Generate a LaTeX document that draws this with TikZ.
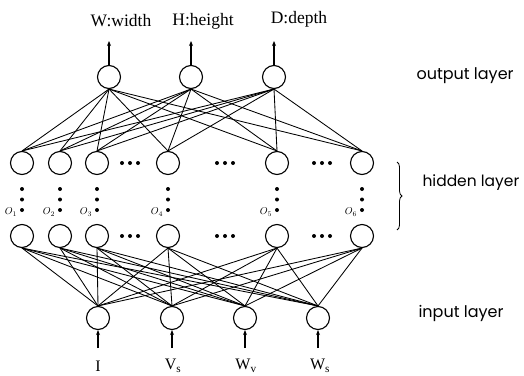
\documentclass[tikz,border=0pt]{standalone}
\usepackage{fontspec}
\setmainfont{Liberation Serif}
\newfontfamily\gothic{Poppins}
\usetikzlibrary{decorations.pathreplacing,arrows.meta}
\begin{document}
\begin{tikzpicture}[x=1pt,y=-1pt,
  neuron/.style={circle,draw,line width=1.1pt,minimum size=23pt,inner sep=0pt},
  link/.style={line width=0.85pt},
  arr/.style={line width=1.1pt,-{Stealth[length=5pt,width=4pt]}},
  toplab/.style={font=\fontsize{17.5}{19}\selectfont},
  inlab/.style={font=\fontsize{16}{18}\selectfont},
  side/.style={font=\gothic\fontsize{16}{18}\selectfont,anchor=west},
  olab/.style={font=\fontsize{10}{11}\selectfont\itshape},
  dot/.style={circle,fill,inner sep=0pt,minimum size=4pt}]
\useasboundingbox (0,0) rectangle (524,375);
% output layer
\foreach \n/\x in {1/109,2/191,3/274} {\node[neuron] (o\n) at (\x,77) {};}
% hidden layer
\foreach \n/\x in {1/22,2/60,3/97,4/168,5/277,6/362} {
  \node[neuron] (h\n) at (\x,163) {};
  \node[neuron] (b\n) at (\x,236) {};
  \node[dot] (va\n) at (\x,189) {};
  \node[dot] (vb\n) at (\x,199.5) {};
  \node[dot] (vc\n) at (\x,210) {};
  \node[olab] (ol\n) at (\x-11,212) {$O_{\n}$};
}
% horizontal dots
\foreach \k/\x in {1/130,2/225,3/322} {
  \foreach \r/\y in {t/163,m/236} {
    \node[dot] (d\r\k a) at (\x-8,\y) {};
    \node[dot] (d\r\k b) at (\x,\y) {};
    \node[dot] (d\r\k c) at (\x+8,\y) {};
  }
}
% input layer
\foreach \n/\x in {1/98,2/172,3/245,4/318} {
  \node[neuron] (i\n) at (\x,318) {};
  \coordinate (ia\n) at (\x,348);
  \draw[arr] (ia\n) -- (i\n.south);
}
% connections
\foreach \o in {1,2,3} {\foreach \h in {1,...,6} {\draw[link] (o\o.south) -- (h\h.north);}}
\foreach \i in {1,...,4} {\foreach \h in {1,...,6} {\draw[link] (i\i.north) -- (b\h.south);}}
% output arrows and labels
\foreach \n/\x in {1/109,2/191,3/274} {
  \coordinate (oa\n) at (\x,41);
  \draw[arr] (o\n.north) -- (oa\n);
}
\node[toplab] (lw) at (121,21) {W:width};
\node[toplab] (lh) at (203,21) {H:height};
\node[toplab] (ld) at (299,19) {D:depth};
% input labels
\node[inlab] (l1) at (98,366) {I};
\node[inlab] (l2) at (173,366) {V\textsubscript{s}};
\node[inlab] (l3) at (246,366) {W\textsubscript{v}};
\node[inlab] (l4) at (320,366) {W\textsubscript{s}};
% side labels
\node[side] (so) at (413,76) {output layer};
\node[side,font=\gothic\fontsize{15.5}{17}\selectfont] (sh) at (419,183) {hidden layer};
\node[side] (si) at (415,313) {input layer};
\coordinate (bt) at (397,162);
\coordinate (bb) at (397,230);
\draw[line width=0.8pt,decorate,decoration={brace,amplitude=5pt}] (bt) -- (bb);
\end{tikzpicture}
\end{document}
